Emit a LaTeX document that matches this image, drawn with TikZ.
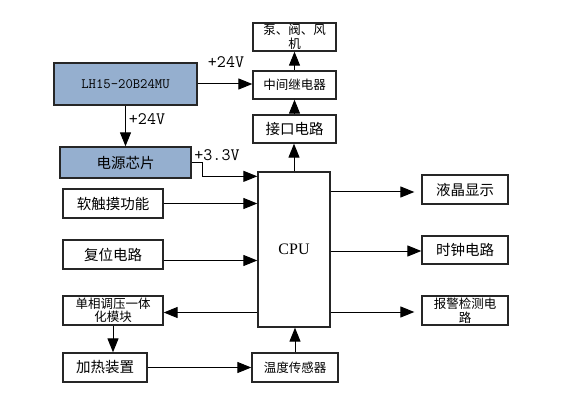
\documentclass[tikz,border=0pt]{standalone}
\usepackage{fontspec}
\setmainfont{Liberation Serif}
\newfontfamily\cjk{Noto Sans CJK SC}
\usetikzlibrary{arrows.meta}
\definecolor{bluegrey}{HTML}{95AFCF}
\tikzset{
  box/.style={draw=black!85, line width=1.3pt, inner sep=0pt, align=center, font=\cjk\fontsize{14.5}{17}\selectfont},
  sbox/.style={box, font=\cjk\fontsize{12.5}{13.5}\selectfont},
  arr/.style={line width=1pt, -{Triangle[length=14pt,width=11pt]}},
  vlab/.style={font=\ttfamily\fontsize{17.5}{19}\selectfont, inner sep=0pt}
}
\begin{document}
\begin{tikzpicture}[x=1pt,y=-1pt]
\useasboundingbox (0,0) rectangle (586,414);
% boxes
\node[sbox, minimum width=83pt, minimum height=28pt] (pump) at (294.5,37) {泵、阀、风\\机};
\node[box, fill=bluegrey, minimum width=143pt, minimum height=42pt, font=\ttfamily\fontsize{14.3}{16}\selectfont] (lh) at (125.5,84) {LH15-20B24MU};
\node[sbox, minimum width=83pt, minimum height=28pt] (relay) at (294.5,85) {中间继电器};
\node[box, minimum width=83pt, minimum height=28pt] (iface) at (294.5,129) {接口电路};
\node[box, fill=bluegrey, minimum width=131pt, minimum height=31pt] (chip) at (125.5,162.5) {电源芯片};
\node[box, minimum width=72pt, minimum height=155pt, font=\fontsize{16}{18}\selectfont] (cpu) at (294,249.5) {CPU};
\node[box, minimum width=100pt, minimum height=29pt] (touch) at (113,203.5) {软触摸功能};
\node[box, minimum width=100pt, minimum height=29pt] (reset) at (113,254.5) {复位电路};
\node[sbox, minimum width=100pt, minimum height=29pt] (volt) at (113,310.5) {单相调压一体\\化模块};
\node[box, minimum width=84pt, minimum height=29pt] (heat) at (105,367.5) {加热装置};
\node[sbox, minimum width=86pt, minimum height=29pt] (temp) at (295,367.5) {温度传感器};
\node[box, minimum width=86pt, minimum height=29pt] (lcd) at (465,189.5) {液晶显示};
\node[box, minimum width=86pt, minimum height=28pt] (clock) at (465,250) {时钟电路};
\node[sbox, minimum width=86pt, minimum height=29pt] (alarm) at (465,310.5) {报警检测电\\路};
% labels
\node[vlab] (l1) at (226,62) {+24V};
\node[vlab] (l2) at (147,119) {+24V};
\node[vlab] (l3) at (217,155) {+3.3V};
% connectors
\draw[arr] (lh.east) -- (lh.east -| relay.west);
\draw[arr] (relay.north) -- (pump.south);
\draw[arr] (iface.north) -- (relay.south);
\draw[arr] (cpu.north) -- (cpu.north |- iface.south);
\draw[arr] (lh.south) -- (chip.north);
\draw[arr] (chip.east) -- ++(11,0) |- ([yshift=-5pt]cpu.north west);
\draw[arr] (touch.east) -- (touch.east -| cpu.west);
\draw[arr] ([yshift=-6pt]reset.east) -- ([yshift=-6pt]reset.east -| cpu.west);
\draw[arr] ([yshift=-2pt]volt.east -| cpu.west) -- ([yshift=-2pt]volt.east);
\draw[arr] (volt.south) -- (volt.south |- heat.north);
\draw[arr] (heat.east) -- (heat.east -| temp.west);
\draw[arr] (temp.north) -- (temp.north |- cpu.south);
\draw[arr, shorten >=7pt] ([yshift=-2.5pt]lcd.west -| cpu.east) -- ([yshift=-2.5pt]lcd.west);
\draw[arr] ([yshift=-1pt]clock.west -| cpu.east) -- ([yshift=-1pt]clock.west);
\draw[arr, shorten >=7pt] ([yshift=-1.5pt]alarm.west -| cpu.east) -- ([yshift=-1.5pt]alarm.west);
\end{tikzpicture}
\end{document}
